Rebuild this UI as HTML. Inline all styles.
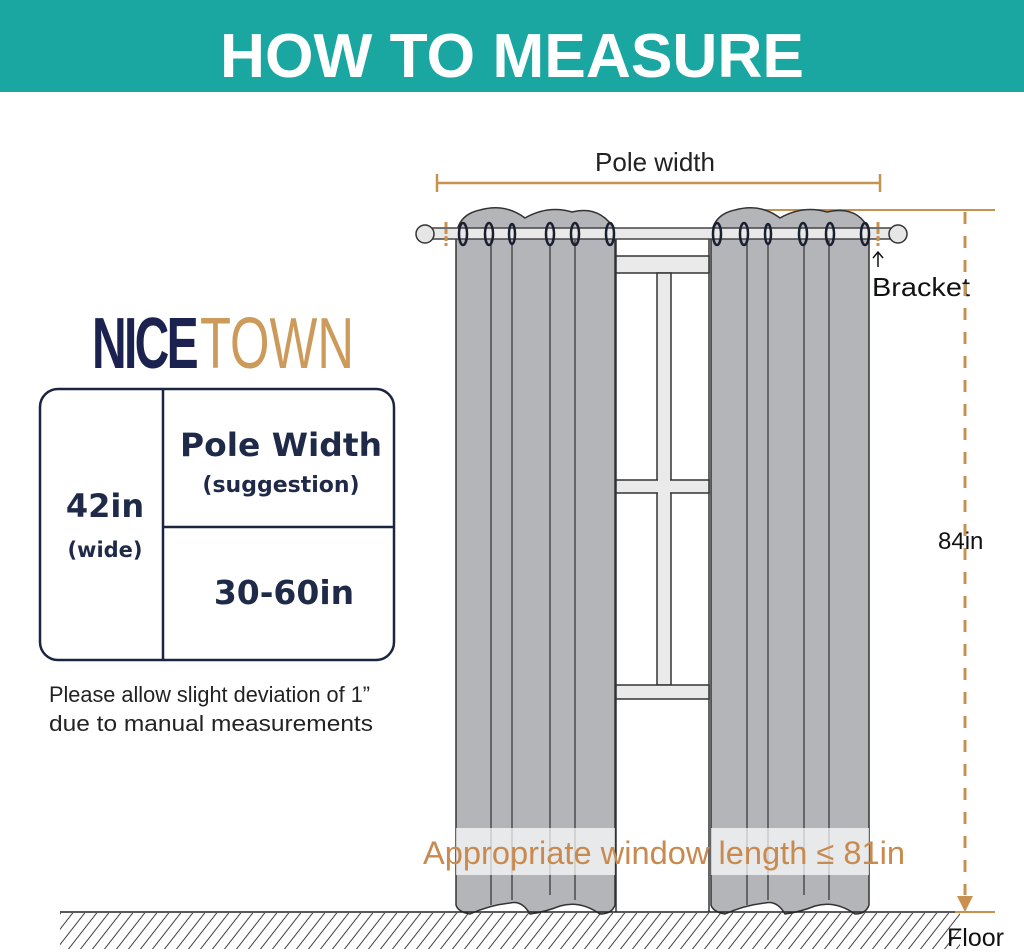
<!DOCTYPE html>
<html><head><meta charset="utf-8"><style>
html,body{margin:0;padding:0;background:#fff;}
svg{display:block;}
text{font-family:"Liberation Sans",sans-serif;}
</style></head><body>
<svg width="1024" height="952" viewBox="0 0 1024 952" xmlns="http://www.w3.org/2000/svg">
<defs>
<pattern id="hatch" width="12" height="36" patternUnits="userSpaceOnUse" patternTransform="skewX(-38)">
<line x1="6" y1="0" x2="6" y2="36" stroke="#333" stroke-width="1.2"/>
</pattern>
</defs>
<rect x="0" y="0" width="1024" height="92" fill="#1aa7a1"/>
<text x="512" y="77" text-anchor="middle" font-size="62" font-weight="bold" fill="#fff" textLength="584" lengthAdjust="spacingAndGlyphs">HOW TO MEASURE</text>

<text x="655" y="171" text-anchor="middle" font-size="26" fill="#222">Pole width</text>
<line x1="437" y1="183" x2="880" y2="183" stroke="#c8914f" stroke-width="2.5"/>
<line x1="437" y1="174" x2="437" y2="192" stroke="#c8914f" stroke-width="2.5"/>
<line x1="880" y1="174" x2="880" y2="192" stroke="#c8914f" stroke-width="2.5"/>
<line x1="762" y1="210" x2="995" y2="210" stroke="#c8914f" stroke-width="2"/>

<g stroke="#333" stroke-width="1.5">
<line x1="616" y1="230" x2="616" y2="912"/>
<line x1="709" y1="230" x2="709" y2="912"/>
<rect x="616" y="256" width="93" height="17" fill="#eaeaea"/>
<rect x="657" y="273" width="14" height="412" fill="#eaeaea"/>
<rect x="616" y="480" width="93" height="13" fill="#eaeaea"/>
<rect x="616" y="685" width="93" height="14" fill="#eaeaea"/>
</g>
<rect x="658" y="479" width="12" height="15" fill="#eaeaea"/>

<g fill="#b3b5b8" stroke="#333" stroke-width="1.5">
<path d="M456,240 Q456,215 480,210 Q505,203 525,218 Q548,205 572,212 Q600,205 615,230 L615,905 Q612,914 600,914 Q580,900 560,906 Q545,912 530,914 Q522,900 510,903 Q490,905 470,914 Q458,912 456,905 Z"/>
<path d="M711,240 Q711,215 735,210 Q760,203 780,218 Q803,205 827,212 Q858,205 869,230 L869,905 Q866,914 855,914 Q835,900 815,906 Q800,912 785,914 Q777,900 765,903 Q745,905 725,914 Q713,912 711,905 Z"/>
</g>
<g stroke="#333" stroke-width="1.2">
<line x1="491" y1="240" x2="491" y2="905"/><line x1="512" y1="245" x2="512" y2="900"/>
<line x1="550" y1="245" x2="550" y2="895"/><line x1="575" y1="240" x2="575" y2="900"/>
<line x1="747" y1="240" x2="747" y2="905"/><line x1="768" y1="245" x2="768" y2="900"/>
<line x1="804" y1="245" x2="804" y2="895"/><line x1="829" y1="240" x2="829" y2="900"/>
</g>

<rect x="425" y="228" width="474" height="11" fill="#e9e9e9" stroke="#444" stroke-width="1.5"/>
<circle cx="425" cy="234" r="9" fill="#e6e6e6" stroke="#333" stroke-width="1.5"/>
<circle cx="898" cy="234" r="9" fill="#e6e6e6" stroke="#333" stroke-width="1.5"/>
<line x1="446" y1="222" x2="446" y2="246" stroke="#c8914f" stroke-width="3" stroke-dasharray="5,2"/>
<line x1="878" y1="222" x2="878" y2="246" stroke="#c8914f" stroke-width="3" stroke-dasharray="5,2"/>
<g fill="none" stroke="#1a2030" stroke-width="2.5">
<ellipse cx="463" cy="234" rx="4" ry="11"/><ellipse cx="489" cy="234" rx="4" ry="11"/><ellipse cx="512" cy="234" rx="3" ry="10"/>
<ellipse cx="550" cy="234" rx="4" ry="11"/><ellipse cx="575" cy="234" rx="4" ry="11"/><ellipse cx="610" cy="234" rx="4" ry="11"/>
<ellipse cx="717" cy="234" rx="4" ry="11"/><ellipse cx="744" cy="234" rx="4" ry="11"/><ellipse cx="768" cy="234" rx="3" ry="10"/>
<ellipse cx="803" cy="234" rx="4" ry="11"/><ellipse cx="830" cy="234" rx="4" ry="11"/><ellipse cx="865" cy="234" rx="4" ry="11"/>
</g>

<line x1="878" y1="253" x2="878" y2="267" stroke="#111" stroke-width="1.5"/>
<path d="M873,258 L878,252 L883,258" fill="none" stroke="#111" stroke-width="1.5"/>
<text x="872" y="296" font-size="26" fill="#111" textLength="98" lengthAdjust="spacingAndGlyphs">Bracket</text>

<line x1="965" y1="212" x2="965" y2="895" stroke="#c8914f" stroke-width="3" stroke-dasharray="12,12"/>
<path d="M957,896 L973,896 L965,912 Z" fill="#c8914f"/>
<text x="938" y="549" font-size="24" fill="#111">84in</text>

<rect x="456" y="828" width="159" height="47" fill="#fff" opacity="0.7"/>
<rect x="711" y="828" width="158" height="47" fill="#fff" opacity="0.7"/>
<text x="423" y="864" font-size="32" fill="#c88a4e" textLength="482" lengthAdjust="spacingAndGlyphs">Appropriate window length ≤ 81in</text>

<rect x="60" y="913" width="460" height="36" fill="url(#hatch)"/>
<rect x="520" y="913" width="440" height="36" fill="url(#hatch)"/>
<line x1="60" y1="912" x2="958" y2="912" stroke="#222" stroke-width="1.5"/>
<line x1="955" y1="912" x2="995" y2="912" stroke="#c8914f" stroke-width="2"/>
<text x="947" y="946" font-size="25" fill="#111">Floor</text>

<text x="92" y="368" font-size="72" font-weight="bold" fill="#1b2250" textLength="104" lengthAdjust="spacingAndGlyphs" style="letter-spacing:-4px">NICE</text>
<text x="200" y="368" font-size="72" fill="#cc9a5a" textLength="154" lengthAdjust="spacingAndGlyphs">TOWN</text>

<rect x="40" y="389" width="354" height="271" rx="18" fill="none" stroke="#1b2440" stroke-width="2.5"/>
<line x1="163" y1="389" x2="163" y2="660" stroke="#1b2440" stroke-width="2.5"/>
<line x1="163" y1="527" x2="394" y2="527" stroke="#1b2440" stroke-width="2.5"/>
<g fill="#1e2a48" font-weight="bold" text-anchor="middle">
<text x="281" y="456" font-size="32" style="font-family:'DejaVu Sans',sans-serif" textLength="202" lengthAdjust="spacingAndGlyphs">Pole Width</text>
<text x="281" y="492" font-size="22" style="font-family:'DejaVu Sans',sans-serif">(suggestion)</text>
<text x="105" y="517" font-size="32" style="font-family:'DejaVu Sans',sans-serif">42in</text>
<text x="105" y="557" font-size="21" style="font-family:'DejaVu Sans',sans-serif">(wide)</text>
<text x="284" y="604" font-size="33" style="font-family:'DejaVu Sans',sans-serif">30-60in</text>
</g>
<text x="49" y="702" font-size="22" fill="#222" textLength="321" lengthAdjust="spacingAndGlyphs">Please allow slight deviation of 1”</text>
<text x="49" y="731" font-size="22" fill="#222" textLength="324" lengthAdjust="spacingAndGlyphs">due to manual measurements</text>
</svg>
</body></html>
